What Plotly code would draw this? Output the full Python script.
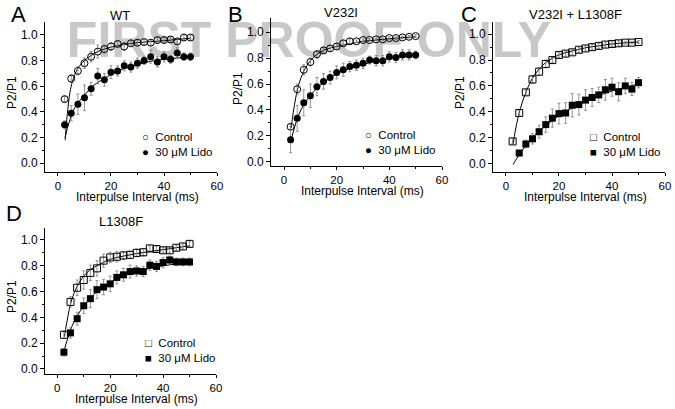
import plotly.graph_objects as go

W, H = 675, 409

# ---------------- data ----------------
interval_ms = [2.5, 5, 7.5, 10, 12.5, 15, 17.5, 20, 22.5, 25, 27.5, 30, 32.5, 35, 37.5, 40, 42.5, 45, 47.5, 50]
interval_c_lido = [5, 7.5, 10, 12.5, 15, 17.5, 20, 22.5, 25, 27.5, 30, 32.5, 35, 37.5, 40, 42.5, 45, 47.5, 50]

wt_control = [0.50, 0.66, 0.72, 0.78, 0.83, 0.87, 0.89, 0.91, 0.93, 0.91, 0.935, 0.94, 0.945, 0.94, 0.96, 0.96, 0.965, 0.95, 0.98, 0.98]
wt_control_err = [0.02, 0.03, 0.03, 0.04, 0.04, 0.05, 0.03, 0.03, 0.02, 0.03, 0.02, 0.02, 0.02, 0.02, 0.02, 0.02, 0.02, 0.02, 0.02, 0.02]
wt_lido = [0.30, 0.39, 0.46, 0.51, 0.58, 0.68, 0.65, 0.71, 0.72, 0.76, 0.75, 0.78, 0.80, 0.83, 0.79, 0.83, 0.81, 0.86, 0.83, 0.83]
wt_lido_err = [0.03, 0.06, 0.08, 0.10, 0.05, 0.06, 0.05, 0.05, 0.04, 0.04, 0.04, 0.04, 0.03, 0.05, 0.04, 0.04, 0.03, 0.04, 0.03, 0.03]

v232i_control = [0.27, 0.56, 0.71, 0.77, 0.83, 0.86, 0.875, 0.89, 0.915, 0.93, 0.93, 0.94, 0.94, 0.945, 0.945, 0.955, 0.955, 0.96, 0.965, 0.97]
v232i_control_err = [0.02, 0.04, 0.04, 0.03, 0.03, 0.02, 0.02, 0.02, 0.02, 0.02, 0.01, 0.01, 0.01, 0.01, 0.01, 0.01, 0.01, 0.01, 0.01, 0.01]
v232i_lido = [0.17, 0.335, 0.455, 0.51, 0.58, 0.62, 0.65, 0.69, 0.71, 0.735, 0.745, 0.76, 0.785, 0.78, 0.78, 0.81, 0.805, 0.825, 0.825, 0.825]
v232i_lido_err = [0.10, 0.10, 0.10, 0.09, 0.07, 0.06, 0.05, 0.05, 0.05, 0.04, 0.04, 0.04, 0.03, 0.04, 0.04, 0.04, 0.04, 0.04, 0.04, 0.03]

dbl_control = [0.17, 0.39, 0.55, 0.65, 0.71, 0.77, 0.80, 0.84, 0.85, 0.86, 0.88, 0.89, 0.90, 0.91, 0.92, 0.925, 0.93, 0.935, 0.935, 0.94]
dbl_control_err = [0.02, 0.02, 0.02, 0.03, 0.03, 0.03, 0.02, 0.02, 0.02, 0.02, 0.02, 0.02, 0.02, 0.02, 0.02, 0.02, 0.02, 0.01, 0.01, 0.01]
dbl_lido = [0.08, 0.15, 0.19, 0.245, 0.30, 0.35, 0.385, 0.39, 0.45, 0.455, 0.49, 0.51, 0.53, 0.57, 0.59, 0.555, 0.60, 0.575, 0.625]
dbl_lido_err = [0.02, 0.03, 0.04, 0.05, 0.06, 0.07, 0.08, 0.08, 0.09, 0.08, 0.08, 0.07, 0.06, 0.08, 0.07, 0.07, 0.06, 0.05, 0.04]

l1308f_control = [0.265, 0.52, 0.63, 0.69, 0.745, 0.78, 0.84, 0.865, 0.87, 0.88, 0.885, 0.90, 0.905, 0.935, 0.93, 0.92, 0.92, 0.94, 0.95, 0.97]
l1308f_control_err = [0.03, 0.04, 0.06, 0.07, 0.06, 0.06, 0.05, 0.04, 0.04, 0.03, 0.03, 0.03, 0.03, 0.02, 0.02, 0.02, 0.02, 0.02, 0.02, 0.02]
l1308f_lido = [0.13, 0.28, 0.39, 0.49, 0.545, 0.615, 0.635, 0.66, 0.71, 0.73, 0.755, 0.76, 0.755, 0.805, 0.795, 0.825, 0.845, 0.83, 0.83, 0.83]
l1308f_lido_err = [0.03, 0.04, 0.05, 0.06, 0.07, 0.07, 0.06, 0.06, 0.05, 0.05, 0.05, 0.04, 0.04, 0.04, 0.04, 0.04, 0.03, 0.03, 0.03, 0.03]

# fitted curves
fit_x = [2.7, 3.5, 4.5, 5.5, 7.5, 10, 12.5, 15, 20, 25, 30, 35, 40, 45, 50]
wt_control_fit = [0.18, 0.38, 0.55, 0.64, 0.74, 0.80, 0.84, 0.87, 0.905, 0.925, 0.94, 0.948, 0.955, 0.965, 0.975]
wt_lido_fit = [0.20, 0.27, 0.34, 0.40, 0.47, 0.53, 0.59, 0.63, 0.69, 0.74, 0.77, 0.795, 0.81, 0.82, 0.83]
v232i_control_fit = [0.26, 0.38, 0.50, 0.59, 0.70, 0.78, 0.83, 0.86, 0.89, 0.91, 0.93, 0.94, 0.95, 0.958, 0.965]
v232i_lido_fit = [0.17, 0.23, 0.30, 0.36, 0.44, 0.51, 0.57, 0.61, 0.68, 0.72, 0.75, 0.78, 0.795, 0.81, 0.82]
dbl_control_fit = [0.15, 0.25, 0.35, 0.43, 0.55, 0.66, 0.73, 0.78, 0.84, 0.87, 0.895, 0.91, 0.925, 0.933, 0.94]
dbl_lido_fit = [-0.01, 0.02, 0.05, 0.08, 0.14, 0.20, 0.25, 0.29, 0.37, 0.43, 0.48, 0.525, 0.56, 0.59, 0.615]
l1308f_control_fit = [0.25, 0.35, 0.46, 0.54, 0.64, 0.72, 0.77, 0.80, 0.85, 0.875, 0.895, 0.91, 0.925, 0.94, 0.955]
l1308f_lido_fit = [0.15, 0.21, 0.27, 0.33, 0.41, 0.49, 0.55, 0.60, 0.67, 0.72, 0.755, 0.78, 0.80, 0.815, 0.83]

panel_letters = ["A", "B", "C", "D"]
panel_titles = ["WT", "V232I", "V232I + L1308F", "L1308F"]
y_ticks = [0.0, 0.2, 0.4, 0.6, 0.8, 1.0]
x_ticks = [0, 20, 40, 60]
legend_control = ["Control", "Control", "Control", "Control"]
legend_lido = ["30 μM Lido", "30 μM Lido", "30 μM Lido", "30 μM Lido"]

# ---------------- layout (pixel geometry) ----------------
geom = [
    dict(px=(45, 217, 22, 172), xr=[-4.9, 60], yr=[-0.068, 1.101],
         letter=(9, 14), title=(120, 15), legend=(140, 128.5)),
    dict(px=(271, 442, 18, 166), xr=[-4.95, 60], yr=[-0.033, 1.11],
         letter=(226, 14), title=(341, 12.5), legend=(363, 127)),
    dict(px=(493, 665, 22, 172), xr=[-4.9, 60], yr=[-0.067, 1.095],
         letter=(459, 14), title=(575, 14.5), legend=(588, 128.5)),
    dict(px=(45, 216, 228, 374), xr=[-4.65, 60], yr=[-0.039, 1.093],
         letter=(4, 213), title=(121, 221), legend=(143, 334.5)),
]

panels = [
    (interval_ms, wt_control, wt_control_err, interval_ms, wt_lido, wt_lido_err, wt_control_fit, wt_lido_fit, "circle"),
    (interval_ms, v232i_control, v232i_control_err, interval_ms, v232i_lido, v232i_lido_err, v232i_control_fit, v232i_lido_fit, "circle"),
    (interval_ms, dbl_control, dbl_control_err, interval_c_lido, dbl_lido, dbl_lido_err, dbl_control_fit, dbl_lido_fit, "square"),
    (interval_ms, l1308f_control, l1308f_control_err, interval_ms, l1308f_lido, l1308f_lido_err, l1308f_control_fit, l1308f_lido_fit, "square"),
]

FONT = "Liberation Sans, Arial, sans-serif"
ERR = dict(type="data", thickness=0.8, width=1.5, color="#7a7a7a")

fig = go.Figure()
annotations = []

def px2x(p):
    return p / W

def px2y(p):
    return 1 - p / H

for i, (g, pan) in enumerate(zip(geom, panels)):
    n = "" if i == 0 else str(i + 1)
    xa, ya = "x" + n, "y" + n
    cx, cy, cerr, lx, ly, lerr, cfit, lfit, sym = pan
    fig.add_trace(go.Scatter(x=fit_x, y=cfit, mode="lines", line=dict(color="black", width=1, shape="spline"),
                             xaxis=xa, yaxis=ya, showlegend=False, hoverinfo="skip"))
    fig.add_trace(go.Scatter(x=fit_x, y=lfit, mode="lines", line=dict(color="black", width=1, shape="spline"),
                             xaxis=xa, yaxis=ya, showlegend=False, hoverinfo="skip"))
    fig.add_trace(go.Scatter(x=cx, y=cy, mode="markers", error_y=dict(array=cerr, **ERR),
                             marker=dict(symbol=sym + "-open", size=7, color="black", line=dict(width=1)),
                             xaxis=xa, yaxis=ya, showlegend=False, name="Control"))
    fig.add_trace(go.Scatter(x=lx, y=ly, mode="markers", error_y=dict(array=lerr, **ERR),
                             marker=dict(symbol=sym, size=7, color="black"),
                             xaxis=xa, yaxis=ya, showlegend=False, name="30 μM Lido"))

    L, R, T, B = g["px"]
    fig.layout["xaxis" + n] = dict(
        domain=[px2x(L), px2x(R)], range=g["xr"], anchor=ya, showgrid=False, zeroline=False, automargin=False,
        showline=True, linecolor="black", linewidth=1, ticks="outside", ticklen=3, tickcolor="black",
        tickvals=x_ticks, tickfont=dict(size=11.5, color="black", family=FONT),
        minor=dict(tickvals=[10, 30, 50], ticks="outside", ticklen=2, tickcolor="black"),
    )
    fig.layout["yaxis" + n] = dict(
        domain=[px2y(B), px2y(T)], range=g["yr"], anchor=xa, showgrid=False, zeroline=False, automargin=False,
        showline=True, linecolor="black", linewidth=1, ticks="outside", ticklen=4, tickcolor="black",
        tickvals=y_ticks, tickformat=".1f", tickfont=dict(size=12, color="black", family=FONT),
        minor=dict(tickvals=[0.1, 0.3, 0.5, 0.7, 0.9], ticks="outside", ticklen=2, tickcolor="black"),
    )

    annotations.append(dict(text="Interpulse Interval (ms)", x=px2x((L + R) / 2 + 6), y=px2y(B + 25),
                            xref="paper", yref="paper", showarrow=False, xanchor="center", yanchor="middle",
                            font=dict(size=12, family=FONT, color="black")))
    annotations.append(dict(text="P2/P1", x=px2x(L - 33), y=px2y((T + B) / 2 - 4),
                            xref="paper", yref="paper", showarrow=False, textangle=-90,
                            xanchor="center", yanchor="middle", font=dict(size=12, family=FONT, color="black")))
    annotations.append(dict(text=panel_titles[i], x=px2x(g["title"][0]), y=px2y(g["title"][1]),
                            xref="paper", yref="paper", showarrow=False, xanchor="center", yanchor="middle",
                            font=dict(size=13, family=FONT, color="black")))
    annotations.append(dict(text=panel_letters[i], x=px2x(g["letter"][0]), y=px2y(g["letter"][1]),
                            xref="paper", yref="paper", showarrow=False, xanchor="left", yanchor="middle",
                            font=dict(size=22, family=FONT, color="black")))
    marks = ("○", "●") if sym == "circle" else ("□", "■")
    annotations.append(dict(text=f"{marks[0]}  {legend_control[i]}<br>{marks[1]}  {legend_lido[i]}",
                            x=px2x(g["legend"][0]), y=px2y(g["legend"][1]), xref="paper", yref="paper",
                            showarrow=False, xanchor="left", yanchor="top", align="left",
                            font=dict(size=11.5, family=FONT, color="black")))

fig.update_layout(
    template="none",
    width=W, height=H, margin=dict(l=0, r=0, t=0, b=0),
    paper_bgcolor="white", plot_bgcolor="rgba(0,0,0,0)",
    annotations=annotations,
    shapes=[dict(type="rect", xref="paper", yref="paper", x0=px2x(66), x1=px2x(552),
                 y0=px2y(57), y1=px2y(13), line=dict(width=0), fillcolor="rgba(0,0,0,0)", layer="below",
                 label=dict(text="FIRST PROOF ONLY", textposition="middle center",
                            font=dict(size=50, color="#c8c8c8", family=FONT, weight="bold")))],
)

fig.write_html("out.html", config={"displayModeBar": False},
               post_script="document.body.style.margin='0';document.body.style.padding='0';"
                           "document.body.style.overflow='hidden';")
